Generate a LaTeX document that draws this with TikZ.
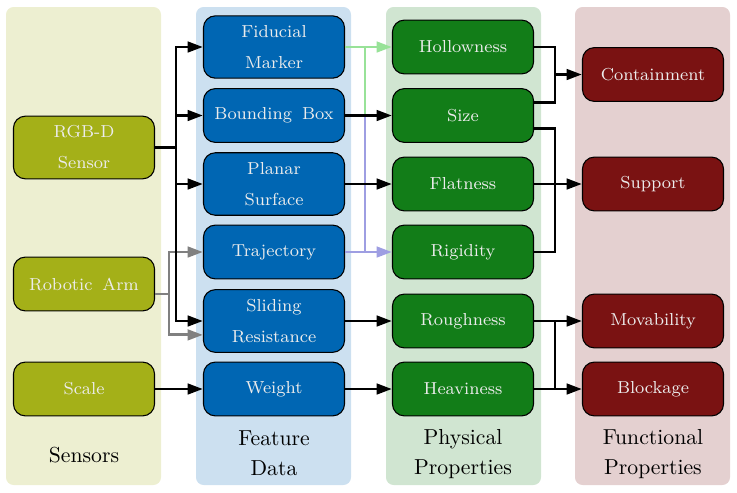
\documentclass[tikz,border=0pt]{standalone}
\usetikzlibrary{arrows.meta,calc}
\definecolor{olv}{RGB}{164,176,24}
\definecolor{blu}{RGB}{0,102,179}
\definecolor{grn}{RGB}{18,125,24}
\definecolor{drd}{RGB}{122,18,18}
\definecolor{lgrn}{RGB}{152,226,152}
\definecolor{lpur}{RGB}{158,158,226}
\definecolor{gry}{RGB}{128,128,128}
\definecolor{ntxt}{RGB}{236,236,236}
\newcommand\mynodefont{\fontsize{8}{14.3}\selectfont\spaceskip=4.6pt\relax}
\tikzset{
  box/.style={draw=black, line width=0.5pt, rounded corners=5.5pt,
    minimum width=65pt, minimum height=24.8pt, align=center, text=ntxt,
    font=\mynodefont, inner xsep=3pt, inner ysep=4.4pt},
  senbox/.style={box, fill=olv},
  feabox/.style={box, fill=blu},
  phybox/.style={box, fill=grn},
  funbox/.style={box, fill=drd},
  panel/.style={rounded corners=3.5pt},
  lab/.style={align=center, font=\fontsize{10}{13.8}\selectfont, text=black},
  conn/.style={line width=1.35pt},
  arr/.style={conn, -{Triangle[length=7pt,width=4.8pt]}},
}
\begin{document}
\begin{tikzpicture}[x=0.4608pt, y=-0.4608pt]
\useasboundingbox (0,0) rectangle (737,492);
% panels
\fill[panel, olv!20] (6,7) rectangle (161,485);
\fill[panel, blu!20] (196,7) rectangle (351,485);
\fill[panel, grn!20] (386,7) rectangle (541,485);
\fill[panel, drd!20] (575,7) rectangle (730,485);
% sensors
\node[senbox] (rgbd) at (84,147.5) {RGB-D\\Sensor};
\node[senbox] (arm) at (84,284) {Robotic Arm};
\node[senbox] (scale) at (84,389) {Scale};
% feature data
\node[feabox] (fid) at (274,47) {Fiducial\\Marker};
\node[feabox] (bbox) at (274,115.5) {Bounding Box};
\node[feabox] (planar) at (274,184) {Planar\\Surface};
\node[feabox] (traj) at (274,252) {Trajectory};
\node[feabox] (slide) at (274,321) {Sliding\\Resistance};
\node[feabox] (weight) at (274,389) {Weight};
% physical properties
\node[phybox] (hollow) at (463,47) {Hollowness};
\node[phybox] (size) at (463,115.5) {Size};
\node[phybox] (flat) at (463,184) {Flatness};
\node[phybox] (rigid) at (463,252) {Rigidity};
\node[phybox] (rough) at (463,321) {Roughness};
\node[phybox] (heavy) at (463,389) {Heaviness};
% functional properties
\node[funbox] (cont) at (653,74.5) {Containment};
\node[funbox] (supp) at (653,184) {Support};
\node[funbox] (mov) at (653,321) {Movability};
\node[funbox] (block) at (653,389) {Blockage};
% labels
\node[lab] (lsen) at (84,455) {Sensors};
\node[lab] (lfea) at (274,453) {Feature\\Data};
\node[lab] (lphy) at (463,454) {Physical\\Properties};
\node[lab] (lfun) at (653,454) {Functional\\Properties};
% bus coordinates
\coordinate (busK) at (176,0);
\coordinate (busG) at (169,0);
\coordinate (busM) at (365,0);
\coordinate (busF) at (555,0);
% sensors -> feature data (gray)
\coordinate (armout) at ([yshift=-4.6pt]arm.east);
\coordinate (slidelow) at ([yshift=-6.4pt]slide.west);
\draw[arr, gry] (armout) -- (armout -| busG) |- (traj.west);
\draw[arr, gry] (armout -| busG) |- (slidelow);
% sensors -> feature data (black)
\draw[arr] (rgbd.east) -- (rgbd.east -| busK) |- (fid.west);
\draw[arr] (rgbd.east -| busK) |- (bbox.west);
\draw[arr] (rgbd.east -| busK) |- (planar.west);
\draw[arr] (rgbd.east -| busK) |- (slide.west);
\draw[arr] (scale.east) -- (weight.west);
% feature -> physical
\draw[conn, lgrn] (fid.east -| busM) -- (bbox.east -| busM);
\draw[arr, lgrn] (fid.east) -- (hollow.west);
\draw[conn, lpur] (traj.east -| busM) -- (bbox.east -| busM);
\draw[arr, lpur] (traj.east) -- (rigid.west);
\draw[arr] (bbox.east) -- (size.west);
\draw[arr] (planar.east) -- (flat.west);
\draw[arr] (slide.east) -- (rough.west);
\draw[arr] (weight.east) -- (heavy.west);
% physical -> functional
\coordinate (sizeup) at ([yshift=6.2pt]size.east);
\coordinate (sizedn) at ([yshift=-6.2pt]size.east);
\draw[conn] (hollow.east) -- (hollow.east -| busF) -- (sizeup -| busF) -- (sizeup);
\draw[arr] (cont.west -| busF) -- (cont.west);
\draw[conn] (sizedn) -- (sizedn -| busF) -- (rigid.east -| busF) -- (rigid.east);
\draw[arr] (flat.east) -- (supp.west);
\draw[conn] (rough.east -| busF) -- (heavy.east -| busF);
\draw[arr] (rough.east) -- (mov.west);
\draw[arr] (heavy.east) -- (block.west);
\end{tikzpicture}
\end{document}
